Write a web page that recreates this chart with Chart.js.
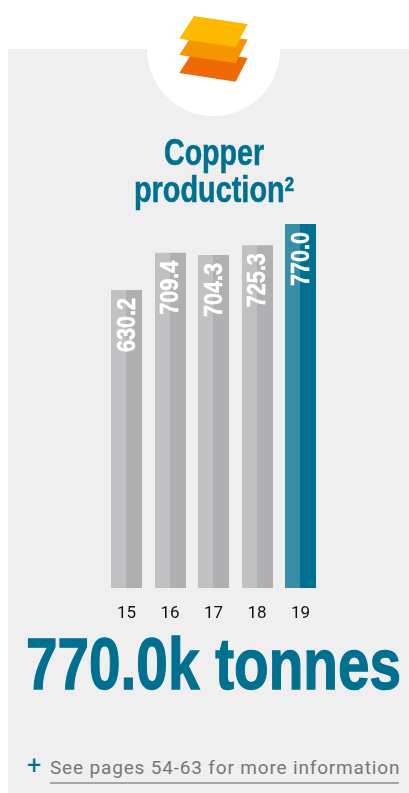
<!DOCTYPE html>
<html>
<head>
<meta charset="utf-8">
<title>Copper production</title>
<script src="https://cdn.jsdelivr.net/npm/chart.js@4"></script>
<style>
  html, body { margin: 0; padding: 0; background: #fff; }
  body { position: relative; width: 409px; height: 793px; overflow: hidden; }
  #panel { position: absolute; left: 8px; top: 49px; right: 0; bottom: 0; background: #efefef; }
  #badge { position: absolute; left: 147px; top: -17px; width: 133px; height: 133px; border-radius: 50%; background: #fff; }
  #icon { position: absolute; left: 0; top: 0; }
  #chart-wrap { position: absolute; left: 0; top: 0; width: 409px; height: 630px; }
  .label { position: absolute; white-space: nowrap; }
  .fit { transform-origin: left top; }
  .title-line { color: #007090; font: bold 36px/40px "Liberation Sans", sans-serif; -webkit-text-stroke: 0.6px #007090; }
  #title-a { left: 164px; top: 133px; }
  #title-b { left: 134px; top: 170px; }
  #title-b sup { font-size: 21px; line-height: 0; vertical-align: 11px; }
  #headline { left: 26px; top: 622px; color: #007090; -webkit-text-stroke: 1.4px #007090;
    font: bold 73px/84px "Liberation Sans", sans-serif; }
  #plus { left: 27px; top: 752px; color: #007090; font: 400 25px/28px Roboto, sans-serif; }
  #more { left: 50px; top: 756px; color: #77777a; padding-bottom: 2px; border-bottom: 2px solid #a6a6a8;
    width: 349px; font: 400 19px/24px Roboto, sans-serif; letter-spacing: 0.83px; }
</style>
</head>
<body>
<div id="panel"></div>
<div id="badge"></div>
<svg id="icon" width="409" height="100" viewBox="0 0 409 100">
  <polygon fill="#ef6a06" points="194,50 247.7,58 235.7,81.7 179.3,73"/>
  <polygon fill="#f59600" points="194,32 247.7,39.5 235.7,63 179.3,55"/>
  <polygon fill="#fdb900" points="194,16 247.7,24 235.7,47 179.3,38.7"/>
</svg>
<div id="chart-wrap"><canvas id="chart" width="409" height="630"></canvas></div>
<div id="title-a" class="label fit title-line">Copper</div>
<div id="title-b" class="label fit title-line">production<sup>2</sup></div>
<div id="headline" class="label fit">770.0k tonnes</div>
<div id="plus" class="label">+</div>
<div id="more" class="label">See pages 54-63 for more information</div>
<script>
// Copper production by year, thousand tonnes
const years = ['15', '16', '17', '18', '19'];
const production = [630.2, 709.4, 704.3, 725.3, 770.0];
const leftShades = ['#c1c1c3', '#c1c1c3', '#c1c1c3', '#c1c1c3', '#388ea6'];
const rightShades = ['#b0b0b2', '#b0b0b2', '#b0b0b2', '#b0b0b2', '#007090'];

// Each bar is a pair of halves; keep their shared edge on a whole pixel so no seam shows
const crispHalves = {
  id: 'crispHalves',
  afterDatasetsUpdate(chart) {
    const x = chart.scales.x;
    chart.getDatasetMeta(0).data.forEach((bar, i) => {
      bar.width = 15;
      bar.x = Math.floor(x.getPixelForValue(i)) - 7.5;
    });
    chart.getDatasetMeta(1).data.forEach((bar, i) => {
      bar.width = 16;
      bar.x = Math.floor(x.getPixelForValue(i)) + 8;
    });
  }
};

// Writes each value vertically, white, just inside the top of its bar
const barValueLabels = {
  id: 'barValueLabels',
  afterDatasetsDraw(chart) {
    const { ctx, scales: { x, y } } = chart;
    ctx.save();
    ctx.fillStyle = '#ffffff';
    ctx.strokeStyle = '#ffffff';
    ctx.lineWidth = 0.5;
    ctx.font = 'bold 26px "Liberation Sans", sans-serif';
    ctx.textAlign = 'right';
    ctx.textBaseline = 'middle';
    production.forEach((value, i) => {
      const text = value.toFixed(1);
      ctx.save();
      ctx.translate(x.getPixelForValue(i), y.getPixelForValue(value) + 8);
      ctx.rotate(-Math.PI / 2);
      ctx.scale(0.83, 1);
      ctx.fillText(text, 0, 1);
      ctx.strokeText(text, 0, 1);
      ctx.restore();
    });
    ctx.restore();
  }
};

new Chart(document.getElementById('chart'), {
  type: 'bar',
  data: {
    labels: years,
    datasets: [
      { data: production, backgroundColor: leftShades },
      { data: production, backgroundColor: rightShades }
    ]
  },
  options: {
    responsive: false,
    animation: false,
    devicePixelRatio: 1,
    layout: { padding: { left: 104.75, right: 86.75, top: 224, bottom: 0 } },
    datasets: { bar: { barPercentage: 1, categoryPercentage: 0.713, inflateAmount: 0 } },
    plugins: { legend: { display: false }, tooltip: { enabled: false }, title: { display: false } },
    scales: {
      x: {
        grid: { display: false, drawTicks: false },
        border: { display: false },
        afterFit(scale) { scale.height = 42; },
        ticks: { color: '#111111', padding: 16, font: { family: 'Roboto', size: 17, weight: 400 }, maxRotation: 0 }
      },
      y: { display: false, min: 0, max: 770 }
    }
  },
  plugins: [crispHalves, barValueLabels]
});

// Condense the display text to its measure, since only regular-width bold faces are available
function fitWidth(id, target) {
  const el = document.getElementById(id);
  el.style.transform = 'scaleX(' + (target / el.getBoundingClientRect().width) + ')';
}
fitWidth('title-a', 100);
fitWidth('title-b', 160);
fitWidth('headline', 375);
</script>
</body>
</html>
